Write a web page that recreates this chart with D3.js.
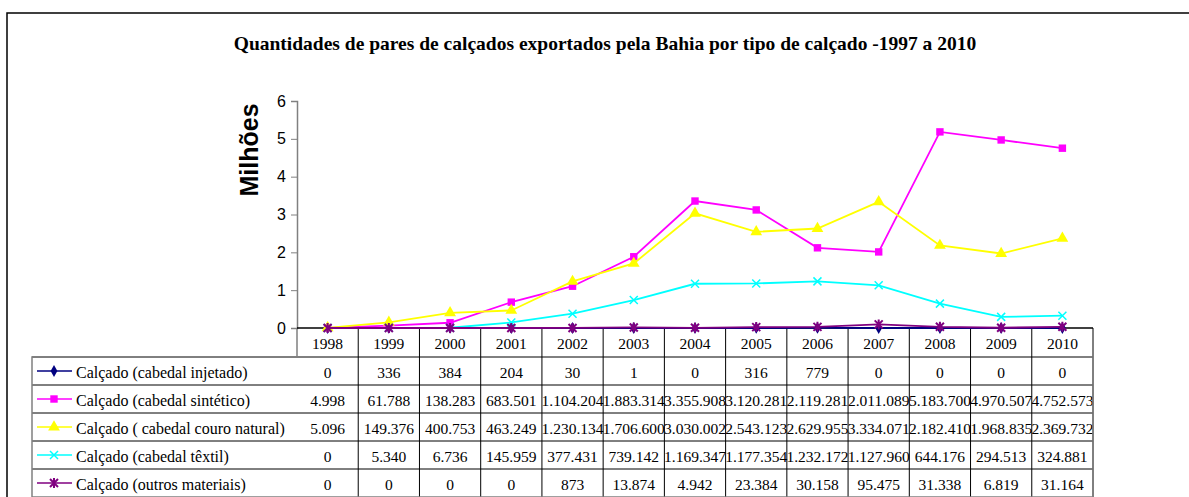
<!DOCTYPE html>
<html>
<head>
<meta charset="utf-8">
<script src="https://cdn.jsdelivr.net/npm/d3@7"></script>
<style>
  body { margin: 0; background: #fff; }
  svg { display: block; }
  .serif { font-family: "Liberation Serif", "Times New Roman", Times, serif; }
  .sans { font-family: "Liberation Sans", Arial, Helvetica, sans-serif; }
</style>
</head>
<body>
<div id="chart"></div>
<script>
(function() {
  var years = ["1998","1999","2000","2001","2002","2003","2004","2005","2006","2007","2008","2009","2010"]
  var seriesNames = [
    "Calçado (cabedal injetado)",
    "Calçado (cabedal sintético)",
    "Calçado ( cabedal couro natural)",
    "Calçado (cabedal têxtil)",
    "Calçado (outros materiais)"
  ]
  var injetado = [0, 336, 384, 204, 30, 1, 0, 316, 779, 0, 0, 0, 0]
  var sintetico = [4998, 61788, 138283, 683501, 1104204, 1883314, 3355908, 3120281, 2119281, 2011089, 5183700, 4970507, 4752573]
  var couro = [5096, 149376, 400753, 463249, 1230134, 1706600, 3030002, 2543123, 2629955, 3334071, 2182410, 1968835, 2369732]
  var textil = [0, 5340, 6736, 145959, 377431, 739142, 1169347, 1177354, 1232172, 1127960, 644176, 294513, 324881]
  var outros = [0, 0, 0, 0, 873, 13874, 4942, 23384, 30158, 95475, 31338, 6819, 31164]
  var yTicks = [0, 1, 2, 3, 4, 5, 6]
  var title = "Quantidades de pares de calçados exportados pela Bahia por tipo de calçado -1997 a 2010"

  var seriesValues = [injetado, sintetico, couro, textil, outros]
  var colors = ["#000080", "#ff00ff", "#ffff00", "#00ffff", "#800080"]
  var markers = ["diamond", "square", "triangle", "x", "star"]

  var width = 1189, height = 497
  var left = 297, right = 1093, top = 101, bottom = 328
  var rowH = 28, headH = 29, legendLeft = 32

  var svg = d3.select("#chart")
    .append("svg")
    .attr("width", width)
    .attr("height", height)

  // outer frame
  svg.append("rect")
    .attr("x", 7).attr("y", 13)
    .attr("width", 1300).attr("height", 600)
    .attr("fill", "none")
    .attr("stroke", "#000")
    .attr("stroke-width", 1.5)

  svg.append("text")
    .attr("class", "serif")
    .attr("x", 605).attr("y", 50)
    .attr("text-anchor", "middle")
    .attr("font-weight", "bold")
    .attr("font-size", "19.5px")
    .text(title)

  var xScale = d3.scaleBand().domain(years).range([left, right])
  var yScale = d3.scaleLinear().domain([0, 6]).range([bottom, top])

  var yAxis = d3.axisLeft(yScale).tickValues(yTicks).tickFormat(d3.format("d")).tickSize(6).tickPadding(5)
  var gy = svg.append("g")
    .attr("transform", "translate(" + left + ",0)")
    .call(yAxis)
  gy.select(".domain").attr("stroke", "#808080").attr("stroke-width", 1.5)
  gy.selectAll(".tick line").attr("stroke", "#808080")
  gy.selectAll(".tick text")
    .attr("class", "sans")
    .attr("font-size", "16px")
    .attr("fill", "#000")
  gy.attr("font-family", null)

  svg.append("text")
    .attr("class", "sans")
    .attr("transform", "translate(258,150) rotate(-90)")
    .attr("text-anchor", "middle")
    .attr("font-weight", "bold")
    .attr("font-size", "25px")
    .text("Milhões")

  // data table
  var fmt = d3.formatLocale({decimal: ",", thousands: ".", grouping: [3], currency: ["", ""]}).format(",d")
  var tableTop = bottom + headH
  var tableBottom = tableTop + rowH * seriesNames.length
  var table = svg.append("g")

  years.forEach(function(yr, i) {
    table.append("line")
      .attr("x1", xScale(yr) + xScale.bandwidth()).attr("x2", xScale(yr) + xScale.bandwidth())
      .attr("y1", bottom).attr("y2", tableBottom)
      .attr("stroke", "#000").attr("stroke-width", 1)
    table.append("text")
      .attr("class", "serif")
      .attr("x", xScale(yr) + xScale.bandwidth() / 2)
      .attr("y", bottom + 21)
      .attr("text-anchor", "middle")
      .attr("font-size", "15.5px")
      .text(yr)
  })

  seriesNames.forEach(function(name, s) {
    var y0 = tableTop + rowH * s
    table.append("line")
      .attr("x1", legendLeft).attr("x2", right)
      .attr("y1", y0).attr("y2", y0)
      .attr("stroke", "#000").attr("stroke-width", 1)
    seriesValues[s].forEach(function(v, i) {
      table.append("text")
        .attr("class", "serif")
        .attr("x", xScale(years[i]) + xScale.bandwidth() / 2)
        .attr("y", y0 + 21)
        .attr("text-anchor", "middle")
        .attr("font-size", "15.5px")
        .text(fmt(v))
    })
    var ly = y0 + rowH / 2
    table.append("line")
      .attr("x1", 37).attr("x2", 72)
      .attr("y1", ly).attr("y2", ly)
      .attr("stroke", colors[s]).attr("stroke-width", 1.5)
    drawMarker(table, 54, ly, s)
    table.append("text")
      .attr("class", "serif")
      .attr("x", 76)
      .attr("y", y0 + 21)
      .attr("font-size", "16px")
      .text(name)
  })

  // table border
  table.append("path")
    .attr("d", "M" + left + "," + bottom + "V" + tableTop + "H" + legendLeft + "V" + tableBottom + "H" + right + "V" + bottom)
    .attr("fill", "none")
    .attr("stroke", "#808080")
    .attr("stroke-width", 1.5)
  table.append("line")
    .attr("x1", left).attr("x2", right)
    .attr("y1", bottom).attr("y2", bottom)
    .attr("stroke", "#000").attr("stroke-width", 1.5)

  function drawMarker(g, cx, cy, s) {
    var type = markers[s]
    var c = colors[s]
    if (type === "diamond") {
      g.append("path").attr("transform", "translate(" + cx + "," + cy + ")")
        .attr("d", d3.symbol().type(d3.symbolDiamond).size(40)).attr("fill", c)
    } else if (type === "square") {
      g.append("path").attr("transform", "translate(" + cx + "," + cy + ")")
        .attr("d", d3.symbol().type(d3.symbolSquare).size(55)).attr("fill", c)
    } else if (type === "triangle") {
      g.append("path").attr("transform", "translate(" + cx + "," + cy + ")")
        .attr("d", d3.symbol().type(d3.symbolTriangle).size(60)).attr("fill", c)
    } else if (type === "x") {
      g.append("path").attr("transform", "translate(" + cx + "," + cy + ")")
        .attr("d", "M-4,-4L4,4M-4,4L4,-4").attr("stroke", c).attr("stroke-width", 1.5).attr("fill", "none")
    } else {
      g.append("path").attr("transform", "translate(" + cx + "," + cy + ")")
        .attr("d", "M-4,-4L4,4M-4,4L4,-4M0,-5V5").attr("stroke", c).attr("stroke-width", 2).attr("fill", "none")
    }
  }

  // series lines and markers
  var line = d3.line()
    .x(function(d, i) { return xScale(years[i]) + xScale.bandwidth() / 2 })
    .y(function(d) { return yScale(d / 1e6) })

  var plot = svg.append("g")
  seriesValues.forEach(function(vals, s) {
    plot.append("path")
      .datum(vals)
      .attr("d", line)
      .attr("fill", "none")
      .attr("stroke", colors[s])
      .attr("stroke-width", 1.8)
    vals.forEach(function(v, i) {
      drawMarker(plot, xScale(years[i]) + xScale.bandwidth() / 2, yScale(v / 1e6), s)
    })
  })
})()
</script>
</body>
</html>
